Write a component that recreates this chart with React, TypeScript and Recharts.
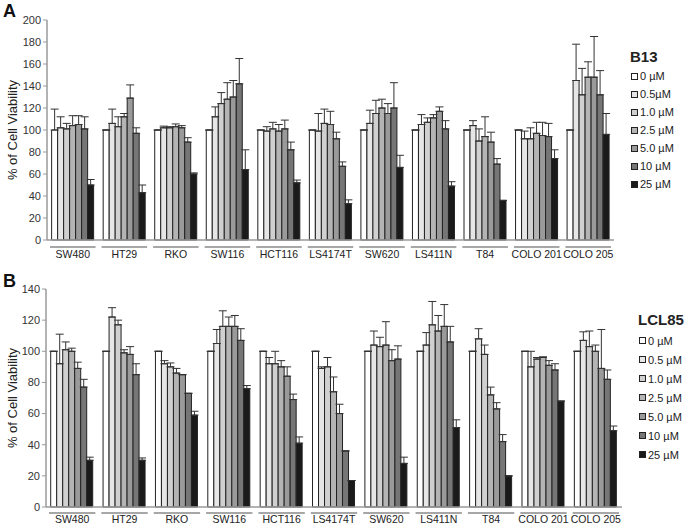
import React from 'react';
import { BarChart, Bar, XAxis, YAxis, ErrorBar } from 'recharts';

const cellLines = ['SW480', 'HT29', 'RKO', 'SW116', 'HCT116', 'LS4174T', 'SW620', 'LS411N', 'T84', 'COLO 201', 'COLO 205'];
const concLabelsA = ['0 µM', '0.5µM', '1.0 µM', '2.5 µM', '5.0 µM', '10 µM', '25 µM'];
const concLabelsB = ['0 µM', '0.5 µM', '1.0 µM', '2.5 µM', '5.0 µM', '10 µM', '25 µM'];
const concColors = ['#ffffff', '#e6e6e6', '#d0d0d0', '#b4b4b4', '#9a9a9a', '#767676', '#1a1a1a'];

// B13 values: per cell line, 7 concentrations
const b13Values = [
  [100, 102, 101, 104, 105, 101, 50],
  [100, 106, 103, 112, 129, 97, 43],
  [100, 102, 102, 103, 102, 89, 60],
  [100, 112, 124, 128, 130, 142, 64],
  [100, 99, 101, 99, 101, 82, 52],
  [100, 99, 106, 105, 92, 67, 33],
  [100, 106, 115, 120, 115, 120, 66],
  [100, 105, 107, 111, 117, 101, 49],
  [100, 104, 90, 94, 89, 69, 36],
  [100, 92, 92, 97, 95, 94, 74],
  [100, 145, 132, 148, 148, 132, 96],
];
const b13Errors = [
  [19, 10, 5, 9, 8, 11, 5],
  [0, 13, 9, 3, 12, 5, 7],
  [0, 1.5, 1, 2.5, 2, 4, 1],
  [0, 9, 10, 15, 15, 23, 18],
  [0, 4, 6, 6, 8, 7, 2.5],
  [0, 16, 13, 12, 6, 4, 3.5],
  [0, 12, 12, 8, 9, 23, 11],
  [0, 9, 4, 3, 4, 7.5, 4],
  [0, 4.5, 11, 18, 9, 5, 0],
  [0, 7, 10, 10, 12, 12, 8],
  [0, 33, 24, 14, 37, 22, 19],
];

// LCL85 values
const lclValues = [
  [100, 92, 101, 100, 89, 77, 30],
  [100, 122, 117, 99, 98, 85, 30],
  [100, 92, 90, 86, 85, 73, 59],
  [100, 105, 116, 116, 116, 107, 76],
  [100, 92, 92, 90, 84, 69, 41],
  [100, 89, 90, 74, 60, 36, 17],
  [100, 104, 103, 104, 94, 95, 28],
  [100, 104, 117, 113, 116, 106, 51],
  [100, 108, 98, 72, 63, 42, 20],
  [100, 90, 95, 96, 91, 88, 68],
  [100, 107, 103, 100, 89, 82, 49],
];
const lclErrors = [
  [0, 19, 5, 2, 4, 5, 2],
  [0, 6, 3, 2, 5, 7, 1.5],
  [0, 2, 2.5, 3, 0, 0, 2.5],
  [0, 9, 10, 6, 7, 7.5, 2],
  [0, 4, 8, 4, 6, 3.5, 4],
  [0, 1, 6, 9.5, 6, 0, 0],
  [0, 9, 6, 15, 7, 8.5, 4],
  [0, 8, 15, 10, 14, 10, 5],
  [0, 6.5, 6, 5, 4, 4.5, 0],
  [0, 10, 1, 0.5, 3, 4, 0],
  [0, 5.5, 10, 4, 25, 6, 3],
];

const ticksA = [0, 20, 40, 60, 80, 100, 120, 140, 160, 180, 200];
const ticksB = [0, 20, 40, 60, 80, 100, 120, 140];

function buildRows(values: number[][], errors: number[][]) {
  return cellLines.map((name, i) => {
    const row: any = { name };
    values[i].forEach((v, j) => {
      row['c' + j] = v;
      row['e' + j] = [0, errors[i][j]];
    });
    return row;
  });
}

const FONT = 'Liberation Sans, Arial, sans-serif';

function makeTick(groupW: number, lineDy: number, textDy: number) {
  return (props: any) => {
    const { x, y, payload } = props;
    return (
      <g>
        <line x1={x - groupW / 2 + 3} x2={x + groupW / 2 - 3} y1={y + lineDy} y2={y + lineDy} stroke="#8a8a8a" strokeWidth={1.5} />
        <text x={x} y={y + textDy} textAnchor="middle" fontSize={10.5} fill="#222" fontFamily={FONT}>
          {payload.value}
        </text>
      </g>
    );
  };
}

function LegendBox(props: { title: string; labels: string[]; left: number; titleTop: number; itemTop: number; spacing: number; titleSize: number }) {
  return (
    <div style={{ position: 'absolute', left: props.left, top: 0, fontFamily: FONT, color: '#222' }}>
      <div style={{ position: 'absolute', left: 0, top: props.titleTop, fontWeight: 'bold', fontSize: props.titleSize, lineHeight: '18px', whiteSpace: 'nowrap' }}>
        {props.title}
      </div>
      {props.labels.map((l, i) => (
        <div
          key={l}
          style={{ position: 'absolute', left: 1, top: props.itemTop + i * props.spacing, display: 'flex', alignItems: 'center', height: props.spacing, fontSize: 11, whiteSpace: 'nowrap' }}
        >
          <span style={{ display: 'inline-block', width: 5, height: 5, border: '1.5px solid #222', background: concColors[i], marginRight: 2 }} />
          <span>{l}</span>
        </div>
      ))}
    </div>
  );
}

function Panel(props: {
  rows: any[];
  ticks: number[];
  max: number;
  width: number;
  height: number;
  margin: any;
  yWidth: number;
  letter: string;
  letterTop: number;
  lineDy: number;
  textDy: number;
}) {
  const plotW = props.width - props.margin.left - props.margin.right - props.yWidth;
  const groupW = plotW / cellLines.length;
  return (
    <div style={{ position: 'absolute', left: 0, top: 0 }}>
      <div style={{ position: 'absolute', left: 3, top: props.letterTop, fontFamily: FONT, fontWeight: 'bold', fontSize: 18, color: '#111', lineHeight: '18px' }}>
        {props.letter}
      </div>
      <BarChart
        width={props.width}
        height={props.height}
        data={props.rows}
        margin={props.margin}
        barCategoryGap="9%"
        barGap={0}
      >
        <XAxis
          dataKey="name"
          interval={0}
          tickLine={false}
          axisLine={{ stroke: '#9a9a9a', strokeWidth: 1.5 }}
          tick={makeTick(groupW, props.lineDy, props.textDy)}
          height={28}
        />
        <YAxis
          domain={[0, props.max]}
          ticks={props.ticks}
          width={props.yWidth}
          tickSize={4}
          tickLine={{ stroke: '#9a9a9a' }}
          axisLine={{ stroke: '#9a9a9a', strokeWidth: 1.5 }}
          tick={{ fontSize: 11, fill: '#333', fontFamily: FONT }}
          label={{ value: '% of Cell Viability', angle: -90, position: 'insideLeft', offset: 12, style: { fontSize: 13, fill: '#222', fontFamily: FONT, textAnchor: 'middle' } }}
        />
        {concColors.map((c, j) => (
          <Bar key={j} dataKey={'c' + j} fill={c} stroke="#222" strokeWidth={1} isAnimationActive={false}>
            <ErrorBar dataKey={'e' + j} width={4} stroke="#333" strokeWidth={1} direction="y" />
          </Bar>
        ))}
      </BarChart>
    </div>
  );
}

export default function App() {
  const rowsA = buildRows(b13Values, b13Errors);
  const rowsB = buildRows(lclValues, lclErrors);
  return (
    <div style={{ position: 'absolute', left: 0, top: 0, width: 685, height: 525, background: '#fff', overflow: 'hidden' }}>
      <Panel
        rows={rowsA}
        ticks={ticksA}
        max={200}
        width={685}
        height={268}
        margin={{ top: 20, right: 71, left: 0, bottom: 0 }}
        yWidth={47}
        letter="A"
        letterTop={2}
        lineDy={-1}
        textDy={10}
      />
      <LegendBox title="B13" labels={concLabelsA} left={630} titleTop={48} itemTop={67} spacing={18} titleSize={15} />
      <Panel
        rows={rowsB}
        ticks={ticksB}
        max={140}
        width={685}
        height={535}
        margin={{ top: 289, right: 63, left: 0, bottom: 0 }}
        yWidth={46}
        letter="B"
        letterTop={272}
        lineDy={-2}
        textDy={8}
      />
      <LegendBox title="LCL85" labels={concLabelsB} left={638} titleTop={311} itemTop={331} spacing={19} titleSize={15} />
    </div>
  );
}
